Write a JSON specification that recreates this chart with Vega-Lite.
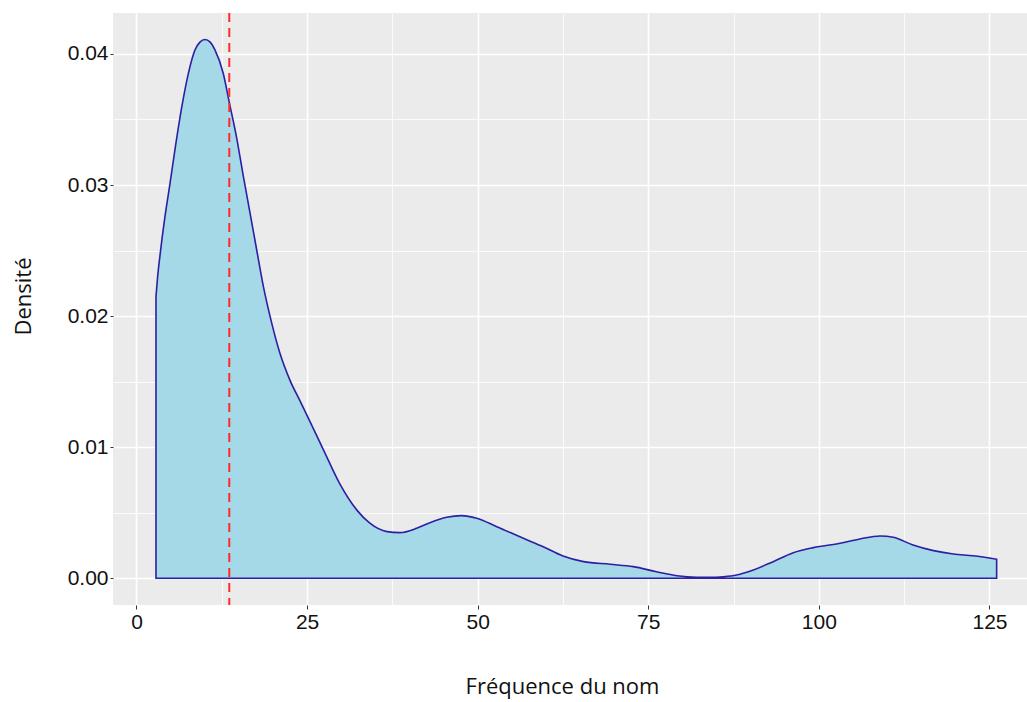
{
  "$schema": "https://vega.github.io/schema/vega-lite/v6.json",
  "width": 914,
  "height": 592,
  "autosize": {"type": "none"},
  "padding": {"left": 113, "top": 13, "right": 0, "bottom": 97},
  "background": "white",
  "config": {"view": {"fill": "#EBEBEB", "stroke": null}},
  "datasets": {
    "densite": [
      {"frequence": 2.86, "densite": 0.0215},
      {"frequence": 3.1, "densite": 0.023},
      {"frequence": 3.44, "densite": 0.0246},
      {"frequence": 4.18, "densite": 0.0276},
      {"frequence": 4.91, "densite": 0.0301},
      {"frequence": 5.64, "densite": 0.0327},
      {"frequence": 6.62, "densite": 0.0359},
      {"frequence": 7.6, "densite": 0.0385},
      {"frequence": 8.57, "densite": 0.0403},
      {"frequence": 9.3, "densite": 0.0409},
      {"frequence": 10.04, "densite": 0.0411},
      {"frequence": 10.8, "densite": 0.0409},
      {"frequence": 11.5, "densite": 0.0403},
      {"frequence": 12.72, "densite": 0.0385},
      {"frequence": 13.6, "densite": 0.0363},
      {"frequence": 14.68, "densite": 0.0336},
      {"frequence": 15.65, "densite": 0.0307},
      {"frequence": 16.63, "densite": 0.0279},
      {"frequence": 17.6, "densite": 0.0251},
      {"frequence": 18.58, "densite": 0.0223},
      {"frequence": 19.8, "densite": 0.0195},
      {"frequence": 21.0, "densite": 0.0172},
      {"frequence": 22.5, "densite": 0.0151},
      {"frequence": 24.0, "densite": 0.0135},
      {"frequence": 25.2, "densite": 0.0122},
      {"frequence": 27.4, "densite": 0.0098},
      {"frequence": 29.8, "densite": 0.0072},
      {"frequence": 32.3, "densite": 0.0052},
      {"frequence": 34.2, "densite": 0.0042},
      {"frequence": 36.7, "densite": 0.00356},
      {"frequence": 38.6, "densite": 0.00348},
      {"frequence": 41.06, "densite": 0.00381},
      {"frequence": 43.0, "densite": 0.00424},
      {"frequence": 45.46, "densite": 0.00465},
      {"frequence": 47.65, "densite": 0.00478},
      {"frequence": 49.85, "densite": 0.00458},
      {"frequence": 52.8, "densite": 0.00394},
      {"frequence": 56.7, "densite": 0.00305},
      {"frequence": 59.6, "densite": 0.00241},
      {"frequence": 62.5, "densite": 0.0017},
      {"frequence": 65.5, "densite": 0.00127},
      {"frequence": 69.4, "densite": 0.00107},
      {"frequence": 72.8, "densite": 0.00089},
      {"frequence": 76.2, "densite": 0.0005},
      {"frequence": 79.2, "densite": 0.0002},
      {"frequence": 82.1, "densite": 0.00008},
      {"frequence": 84.0, "densite": 0.00007},
      {"frequence": 86.0, "densite": 0.00012},
      {"frequence": 87.95, "densite": 0.00025},
      {"frequence": 90.4, "densite": 0.00063},
      {"frequence": 93.3, "densite": 0.00127},
      {"frequence": 96.25, "densite": 0.00195},
      {"frequence": 99.2, "densite": 0.00234},
      {"frequence": 103.1, "densite": 0.00267},
      {"frequence": 106.0, "densite": 0.003},
      {"frequence": 108.96, "densite": 0.00323},
      {"frequence": 110.9, "densite": 0.00313},
      {"frequence": 113.8, "densite": 0.00254},
      {"frequence": 116.8, "densite": 0.00211},
      {"frequence": 119.7, "densite": 0.00185},
      {"frequence": 122.6, "densite": 0.00172},
      {"frequence": 126.05, "densite": 0.00145}
    ],
    "moyenne": [{"frequence": 13.6}]
  },
  "layer": [
    {
      "data": {"name": "densite"},
      "mark": {"type": "area", "interpolate": "monotone", "fill": "#a6d9e8", "stroke": "#2b1fa3", "strokeWidth": 1.6},
      "encoding": {
        "x": {
          "field": "frequence", "type": "quantitative", "title": "Fréquence du nom",
          "scale": {"domain": [-3.44, 130.5], "nice": false, "zero": false},
          "axis": {
            "values": [0, 12.5, 25, 37.5, 50, 62.5, 75, 87.5, 100, 112.5, 125],
            "labelExpr": "datum.value % 25 === 0 ? datum.label : ''",
            "domain": false,
            "grid": true,
            "gridColor": "white",
            "gridOpacity": 1,
            "gridWidth": {"condition": {"test": "datum.value % 25 === 0", "value": 1.6}, "value": 0.8},
            "tickOpacity": {"condition": {"test": "datum.value % 25 === 0", "value": 1}, "value": 0},
            "tickColor": "#333333",
            "tickSize": 4,
            "tickWidth": 1,
            "labelFont": "Liberation Sans",
            "labelFontSize": 21,
            "labelColor": "#111111",
            "labelPadding": 2,
            "labelFlush": false,
            "titleFont": "Open Sans",
            "titleFontSize": 22,
            "titleFontWeight": "normal",
            "titleColor": "#111111",
            "titlePadding": 44,
            "titleX": 449
          }
        },
        "y": {
          "field": "densite", "type": "quantitative", "title": "Densité",
          "scale": {"domain": [-0.002037, 0.04312], "nice": false, "zero": false},
          "axis": {
            "values": [0, 0.005, 0.01, 0.015, 0.02, 0.025, 0.03, 0.035, 0.04],
            "format": ".2f",
            "labelExpr": "round(datum.value * 1000) % 10 === 0 ? datum.label : ''",
            "domain": false,
            "grid": true,
            "gridColor": "white",
            "gridOpacity": 1,
            "gridWidth": {"condition": {"test": "round(datum.value * 1000) % 10 === 0", "value": 1.6}, "value": 0.8},
            "tickOpacity": {"condition": {"test": "round(datum.value * 1000) % 10 === 0", "value": 1}, "value": 0},
            "tickColor": "#333333",
            "tickSize": 3,
            "tickWidth": 1,
            "labelFont": "Liberation Sans",
            "labelFontSize": 21,
            "labelColor": "#111111",
            "labelPadding": 2,
            "labelFlush": false,
            "titleFont": "Open Sans",
            "titleFontSize": 22,
            "titleFontWeight": "normal",
            "titleColor": "#111111",
            "titlePadding": 32,
            "titleY": 283
          }
        }
      }
    },
    {
      "data": {"name": "moyenne"},
      "mark": {"type": "rule", "color": "#ff2b2b", "strokeWidth": 2, "strokeDash": [9, 6]},
      "encoding": {
        "x": {"field": "frequence", "type": "quantitative", "title": "Fréquence du nom"}
      }
    }
  ]
}
